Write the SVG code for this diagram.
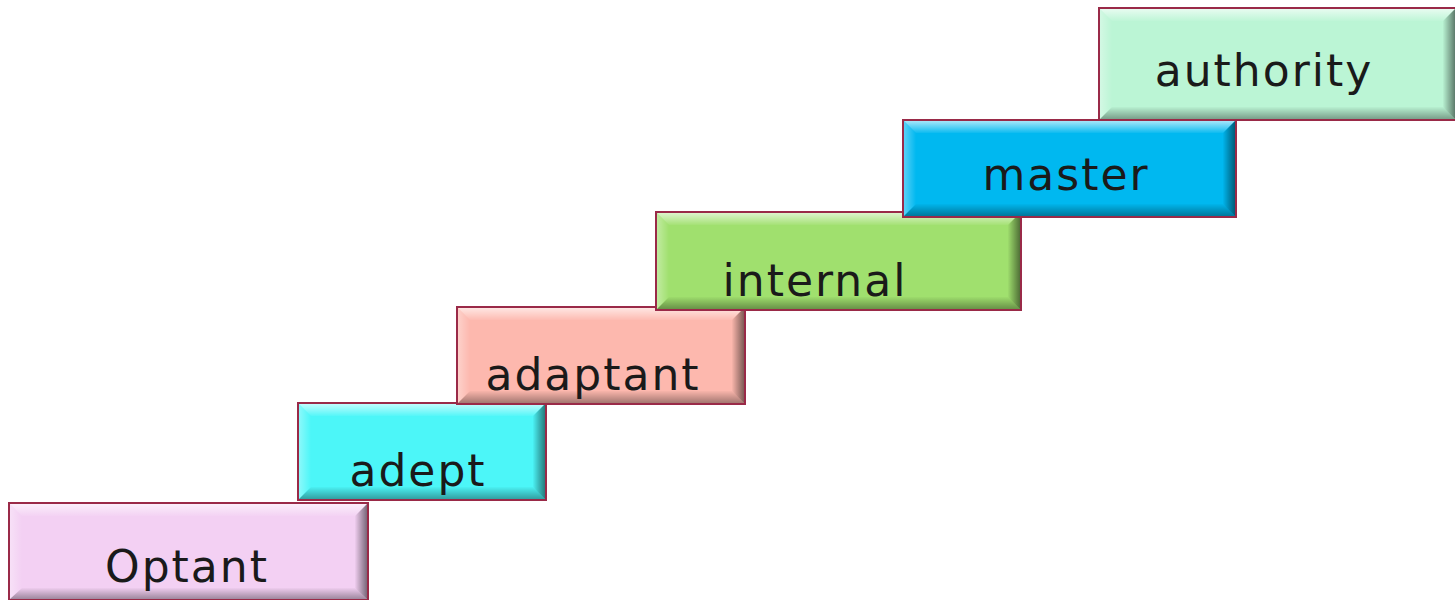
<svg xmlns="http://www.w3.org/2000/svg" width="1455" height="600" viewBox="0 0 1455 600">
  <defs>
    <linearGradient id="bevTop" x1="0" y1="0" x2="0" y2="1">
      <stop offset="0" stop-color="#fff" stop-opacity="0.65"/>
      <stop offset="1" stop-color="#fff" stop-opacity="0.05"/>
    </linearGradient>
    <linearGradient id="bevLeft" x1="0" y1="0" x2="1" y2="0">
      <stop offset="0" stop-color="#fff" stop-opacity="0.35"/>
      <stop offset="1" stop-color="#fff" stop-opacity="0"/>
    </linearGradient>
    <linearGradient id="bevRight" x1="0" y1="0" x2="1" y2="0">
      <stop offset="0" stop-color="#000" stop-opacity="0.02"/>
      <stop offset="1" stop-color="#000" stop-opacity="0.5"/>
    </linearGradient>
    <linearGradient id="bevBottom" x1="0" y1="0" x2="0" y2="1">
      <stop offset="0" stop-color="#000" stop-opacity="0.02"/>
      <stop offset="1" stop-color="#000" stop-opacity="0.35"/>
    </linearGradient>
  </defs>
  <style>
    .box { stroke: #9a2a48; stroke-width: 2; }
    .top { fill: url(#bevTop); }
    .left { fill: url(#bevLeft); }
    .right { fill: url(#bevRight); }
    .bottom { fill: url(#bevBottom); }
    .label { font-family: "DejaVu Sans", "Liberation Sans", sans-serif; font-size: 44px; fill: #1a1a1a; text-anchor: middle; letter-spacing: 2px; }
  </style>

  <rect width="1455" height="600" fill="#ffffff"/>

  <!-- Optant step -->
  <g id="optant">
    <rect class="box" x="9" y="503" width="359" height="97" fill="#f3d0f3"/>
    <polygon class="top" points="10,504 367,504 355,516 22,516"/>
    <polygon class="left" points="10,504 22,516 22,588 10,599"/>
    <polygon class="right" points="367,504 367,599 355,588 355,516"/>
    <polygon class="bottom" points="22,588 355,588 367,599 10,599"/>
    <text class="label" x="187" y="582">Optant</text>
  </g>

  <!-- adept step -->
  <g id="adept">
    <rect class="box" x="298" y="403" width="248" height="97" fill="#4cf6f8"/>
    <polygon class="top" points="299,404 545,404 533,416 311,416"/>
    <polygon class="left" points="299,404 311,416 311,487 299,499"/>
    <polygon class="right" points="545,404 545,499 533,487 533,416"/>
    <polygon class="bottom" points="311,487 533,487 545,499 299,499"/>
    <text class="label" x="418" y="486">adept</text>
  </g>

  <!-- adaptant step -->
  <g id="adaptant">
    <rect class="box" x="457" y="307" width="288" height="97" fill="#fdb8ae"/>
    <polygon class="top" points="458,308 744,308 732,320 470,320"/>
    <polygon class="left" points="458,308 470,320 470,391 458,403"/>
    <polygon class="right" points="744,308 744,403 732,391 732,320"/>
    <polygon class="bottom" points="470,391 732,391 744,403 458,403"/>
    <text class="label" x="593" y="390">adaptant</text>
  </g>

  <!-- internal step -->
  <g id="internal">
    <rect class="box" x="656" y="212" width="365" height="98" fill="#a0e06e"/>
    <polygon class="top" points="657,213 1020,213 1008,225 669,225"/>
    <polygon class="left" points="657,213 669,225 669,297 657,309"/>
    <polygon class="right" points="1020,213 1020,309 1008,297 1008,225"/>
    <polygon class="bottom" points="669,297 1008,297 1020,309 657,309"/>
    <text class="label" x="815" y="296">internal</text>
  </g>

  <!-- master step -->
  <g id="master">
    <rect class="box" x="903" y="120" width="333" height="97" fill="#00b8f0"/>
    <polygon class="top" points="904,121 1235,121 1223,133 916,133"/>
    <polygon class="left" points="904,121 916,133 916,204 904,216"/>
    <polygon class="right" points="1235,121 1235,216 1223,204 1223,133"/>
    <polygon class="bottom" points="916,204 1223,204 1235,216 904,216"/>
    <text class="label" x="1066" y="190">master</text>
  </g>

  <!-- authority step -->
  <g id="authority">
    <rect class="box" x="1099" y="8" width="357" height="112" fill="#bbf5d5"/>
    <polygon class="top" points="1100,9 1455,9 1443,21 1112,21"/>
    <polygon class="left" points="1100,9 1112,21 1112,107 1100,119"/>
    <polygon class="right" points="1455,9 1455,119 1443,107 1443,21"/>
    <polygon class="bottom" points="1112,107 1443,107 1455,119 1100,119"/>
    <text class="label" x="1264" y="86">authority</text>
  </g>

  <!-- no connectors in this diagram -->
  <g id="connectors"/>
</svg>
